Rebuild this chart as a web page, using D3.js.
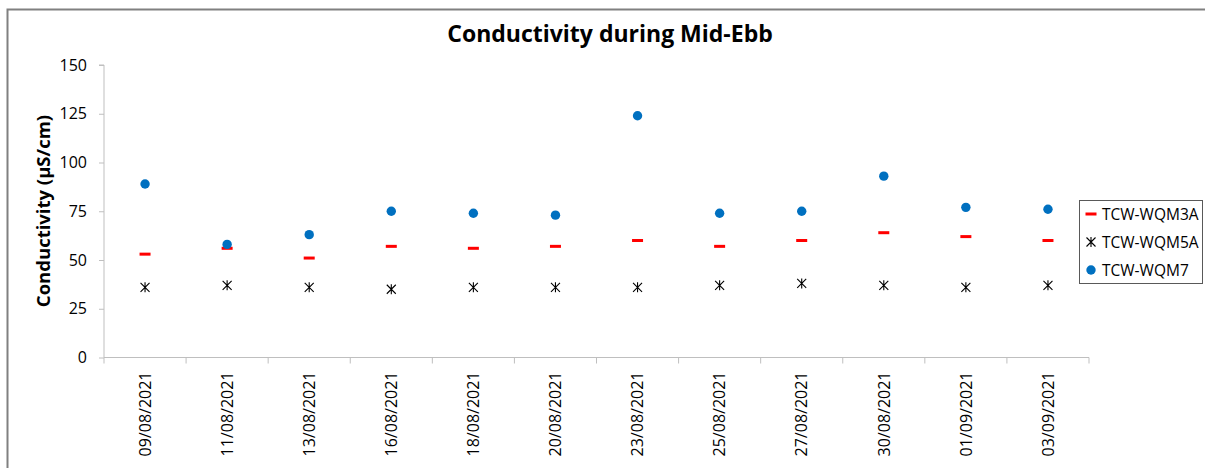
<!DOCTYPE html>
<html lang="en">
<head>
    <meta charset="UTF-8">
    <title>Conductivity during Mid-Ebb</title>
    <style>
        body { margin: 0; background: #fff; }
        svg { display: block; font-family: "Open Sans", sans-serif; }
    </style>
</head>
<body>
    <svg id="chart" width="1205" height="468"></svg>
    <script src="https://d3js.org/d3.v7.min.js"></script>
    <script>
        var dates = ["09/08/2021", "11/08/2021", "13/08/2021", "16/08/2021", "18/08/2021", "20/08/2021",
                     "23/08/2021", "25/08/2021", "27/08/2021", "30/08/2021", "01/09/2021", "03/09/2021"];
        var wqm3a = [53, 56, 51, 57, 56, 57, 60, 57, 60, 64, 62, 60];
        var wqm5a = [36, 37, 36, 35, 36, 36, 36, 37, 38, 37, 36, 37];
        var wqm7  = [89, 58, 63, 75, 74, 73, 124, 74, 75, 93, 77, 76];
        var yTicks = [0, 25, 50, 75, 100, 125, 150];
        var seriesNames = ["TCW-WQM3A", "TCW-WQM5A", "TCW-WQM7"];

        var svg = d3.select("#chart");

        // chart frame
        svg.append("rect")
           .attr("x", 7.5).attr("y", 9.5)
           .attr("width", 1300).attr("height", 500)
           .attr("fill", "none")
           .attr("stroke", "#808080")
           .attr("stroke-width", 2);

        var x = d3.scaleBand()
                  .domain(dates)
                  .range([104, 1089]);

        var y = d3.scaleLinear()
                  .domain([0, 150])
                  .range([357.5, 65]);

        var cx = function(i) { return x(dates[i]) + x.bandwidth() / 2; };

        // Y axis
        var yAxis = svg.append("g")
           .attr("transform", "translate(104,0)")
           .call(d3.axisLeft(y).tickValues(yTicks).tickSize(5).tickPadding(12));
        yAxis.selectAll("line, path").attr("stroke", "#bfbfbf");
        yAxis.select(".domain").attr("d", "M-5," + y(150) + "H0V" + y(0));
        yAxis.selectAll("text")
             .attr("fill", "#000")
             .style("font-size", "16px")
             .style("font-family", "Open Sans");

        // X axis (labels only, ticks drawn at category boundaries)
        var xAxis = svg.append("g")
           .attr("transform", "translate(0," + y(0) + ")")
           .call(d3.axisBottom(x).tickSize(0));
        xAxis.select(".domain").attr("stroke", "#bfbfbf").attr("d", "M104,0H1089");
        xAxis.selectAll("text")
             .attr("fill", "#000")
             .attr("transform", "rotate(-90)")
             .attr("x", -14)
             .attr("y", 0)
             .attr("dy", "0.36em")
             .style("text-anchor", "end")
             .style("font-size", "16px")
             .style("font-family", "Open Sans");

        var bounds = dates.map(function(d) { return x(d); }).concat([x.range()[1]]);
        svg.append("g").selectAll("line")
           .data(bounds)
           .enter().append("line")
           .attr("x1", function(d) { return d; })
           .attr("x2", function(d) { return d; })
           .attr("y1", y(0))
           .attr("y2", y(0) + 6)
           .attr("stroke", "#bfbfbf");

        // markers
        function dash(g, px, py) {
            g.append("rect")
             .attr("x", px - 5.5).attr("y", py - 1.5)
             .attr("width", 11).attr("height", 3)
             .attr("fill", "#ff0000");
        }
        function star(g, px, py) {
            var r = 4.5;
            g.append("path")
             .attr("d", "M" + (px - r) + "," + (py - r) + "L" + (px + r) + "," + (py + r) +
                        "M" + (px + r) + "," + (py - r) + "L" + (px - r) + "," + (py + r) +
                        "M" + px + "," + (py - r - 0.5) + "L" + px + "," + (py + r + 0.5))
             .attr("stroke", "#000")
             .attr("stroke-width", 1.1)
             .attr("fill", "none");
        }
        function dot(g, px, py) {
            g.append("circle")
             .attr("cx", px).attr("cy", py).attr("r", 4.7)
             .attr("fill", "#0070c0");
        }

        var marks = svg.append("g");
        wqm3a.forEach(function(v, i) { dash(marks, cx(i), y(v)); });
        wqm5a.forEach(function(v, i) { star(marks, cx(i), y(v)); });
        wqm7.forEach(function(v, i) { dot(marks, cx(i), y(v)); });

        // Title
        svg.append("text")
           .attr("x", 610).attr("y", 42)
           .style("text-anchor", "middle")
           .style("font-weight", "bold")
           .style("font-size", "23px")
           .text("Conductivity during Mid-Ebb");

        // Y axis title
        svg.append("text")
           .attr("transform", "translate(50,211) rotate(-90)")
           .style("text-anchor", "middle")
           .style("font-weight", "bold")
           .style("font-size", "18.5px")
           .text("Conductivity (µS/cm)");

        // Legend
        var legend = svg.append("g");
        legend.append("rect")
              .attr("x", 1079.5).attr("y", 200.5)
              .attr("width", 123).attr("height", 83)
              .attr("fill", "#fff")
              .attr("stroke", "#595959");
        var markerFns = [dash, star, dot];
        seriesNames.forEach(function(name, i) {
            var ly = 214 + i * 28;
            markerFns[i](legend, 1091, ly);
            legend.append("text")
                  .attr("x", 1102).attr("y", ly + 5.5)
                  .style("font-size", "15.5px")
                  .text(name);
        });
    </script>
</body>
</html>
